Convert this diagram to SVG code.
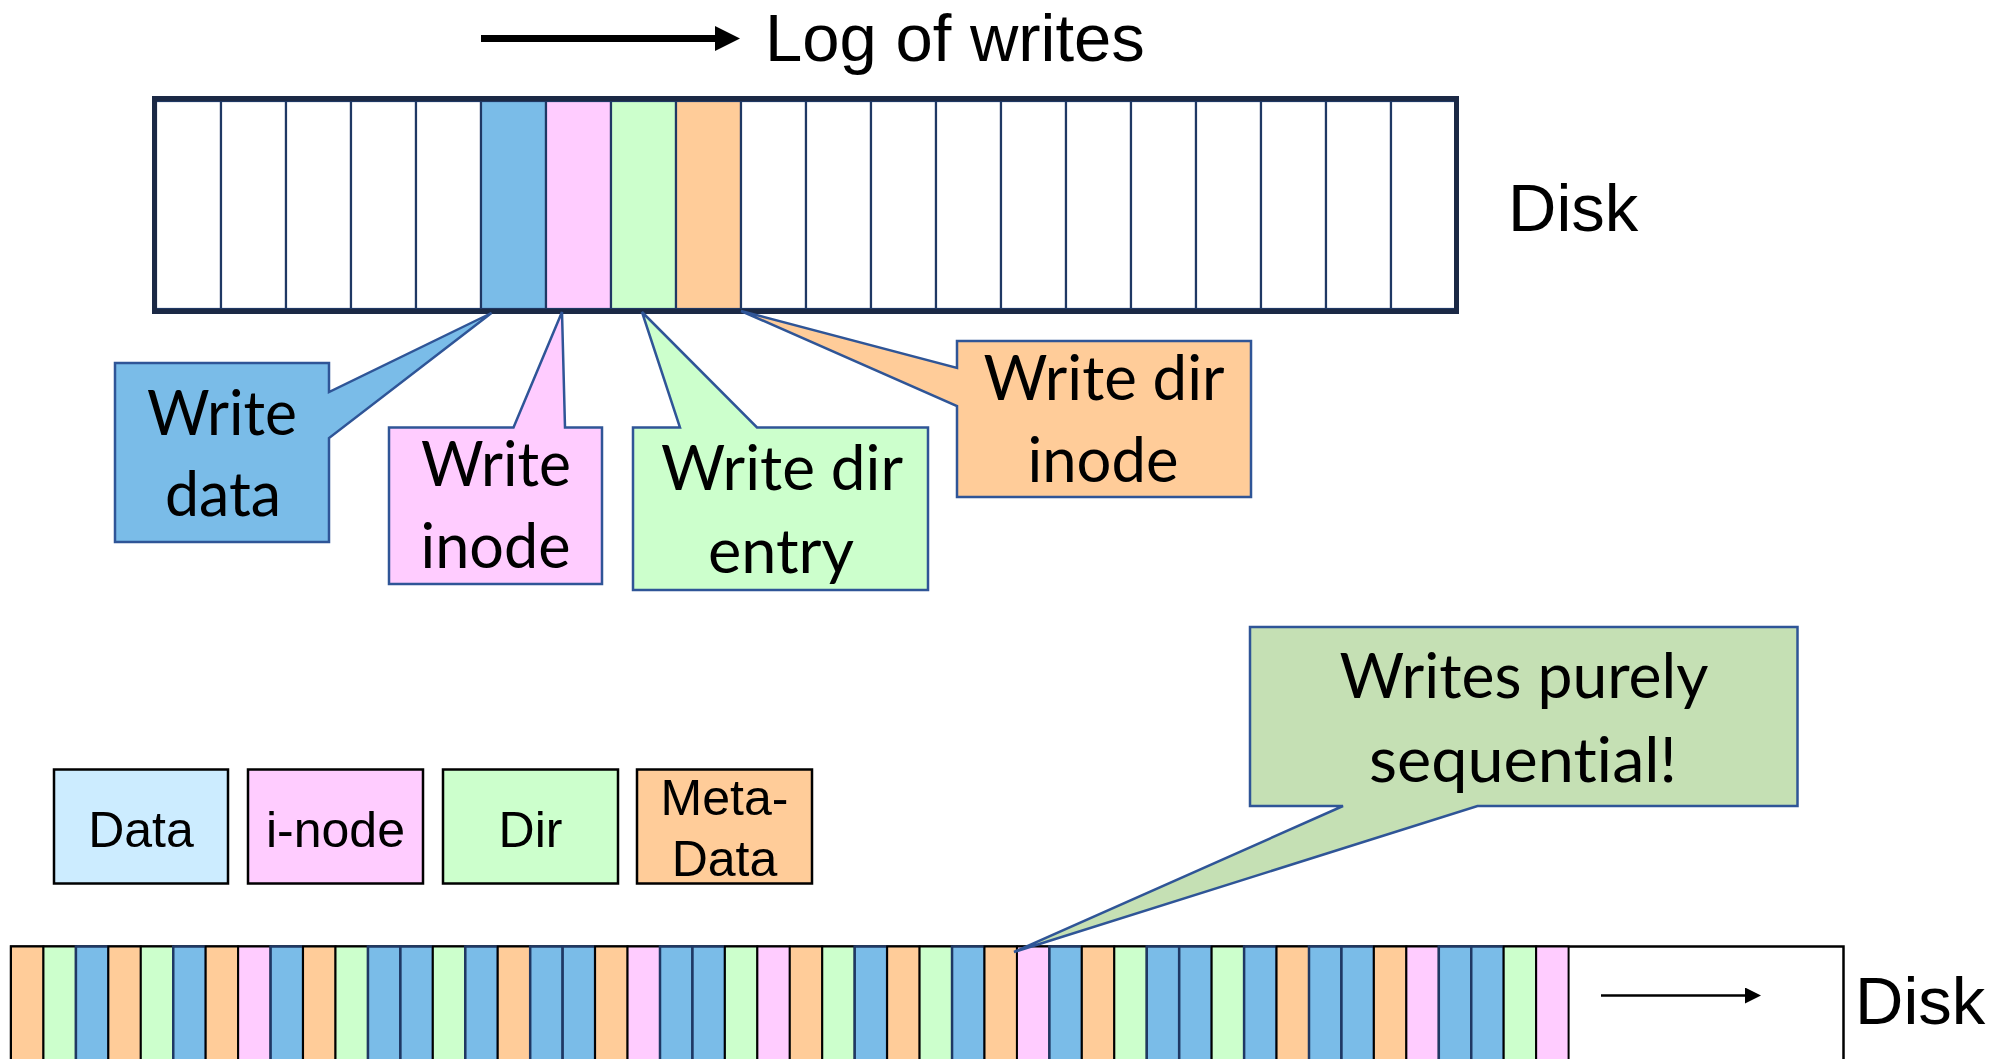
<svg xmlns="http://www.w3.org/2000/svg" width="2013" height="1059" viewBox="0 0 2013 1059">
  <defs>
    <style>
      .sans { font-family: "Liberation Sans", Arial, sans-serif; fill: #000; }
      .call { font-family: Lato, "Open Sans", sans-serif; fill: #000; font-size: 61px; text-anchor: middle; font-variant-ligatures: none; font-feature-settings: "liga" 0, "clig" 0; }
      .cell { stroke: #1F3864; stroke-width: 2.2; }
      .w { fill: #FFFFFF; }
      .b { fill: #7ABCE8; }
      .p { fill: #FFCCFF; }
      .g { fill: #CCFFCC; }
      .o { fill: #FFCC99; }
      .bc { stroke: #1F3864; stroke-width: 2.5; }
      .kc { stroke: #000; stroke-width: 2; }
      .callout { stroke: #2F5597; stroke-width: 2.5; stroke-linejoin: miter; }
      .legend { stroke: #000; stroke-width: 2.5; }
    </style>
    <marker id="headBig" viewBox="0 0 10 10" refX="0" refY="5" markerWidth="26" markerHeight="25" markerUnits="userSpaceOnUse" orient="auto">
      <path d="M0,0 L10,5 L0,10 Z" fill="#000"/>
    </marker>
    <marker id="headSmall" viewBox="0 0 10 10" refX="0" refY="5" markerWidth="17" markerHeight="16" markerUnits="userSpaceOnUse" orient="auto">
      <path d="M0,0 L10,5 L0,10 Z" fill="#000"/>
    </marker>
  </defs>

  <rect width="2013" height="1059" fill="#FFFFFF"/>

  <!-- title above the upper disk -->
  <text id="title" class="sans" x="765" y="61" font-size="67">Log of writes</text>

  <!-- upper disk: 20 blocks, four freshly written -->
  <g id="disk-top">
    <rect class="cell w" x="156" y="101" width="65" height="208"/>
    <rect class="cell w" x="221" y="101" width="65" height="208"/>
    <rect class="cell w" x="286" y="101" width="65" height="208"/>
    <rect class="cell w" x="351" y="101" width="65" height="208"/>
    <rect class="cell w" x="416" y="101" width="65" height="208"/>
    <rect class="cell b" x="481" y="101" width="65" height="208"/>
    <rect class="cell p" x="546" y="101" width="65" height="208"/>
    <rect class="cell g" x="611" y="101" width="65" height="208"/>
    <rect class="cell o" x="676" y="101" width="65" height="208"/>
    <rect class="cell w" x="741" y="101" width="65" height="208"/>
    <rect class="cell w" x="806" y="101" width="65" height="208"/>
    <rect class="cell w" x="871" y="101" width="65" height="208"/>
    <rect class="cell w" x="936" y="101" width="65" height="208"/>
    <rect class="cell w" x="1001" y="101" width="65" height="208"/>
    <rect class="cell w" x="1066" y="101" width="65" height="208"/>
    <rect class="cell w" x="1131" y="101" width="65" height="208"/>
    <rect class="cell w" x="1196" y="101" width="65" height="208"/>
    <rect class="cell w" x="1261" y="101" width="65" height="208"/>
    <rect class="cell w" x="1326" y="101" width="65" height="208"/>
    <rect class="cell w" x="1391" y="101" width="65" height="208"/>
    <rect x="154.5" y="98.5" width="1302" height="213" fill="none" stroke="#1B2945" stroke-width="5"/>
    <text class="sans" x="1508" y="231" font-size="67">Disk</text>
  </g>

  <!-- callouts for the four writes -->
  <g id="callout-data">
    <path class="callout b" d="M115,363 H329 V392 L491.5,313 L329,438 V542 H115 Z"/>
    <text class="call" x="222" y="435" textLength="150" lengthAdjust="spacingAndGlyphs">Write</text>
    <text class="call" x="223" y="516" textLength="116" lengthAdjust="spacingAndGlyphs">data</text>
  </g>
  <g id="callout-inode">
    <path class="callout p" d="M389,427.5 H513.5 L562,312 L565,427.5 H602 V584 H389 Z"/>
    <text class="call" x="496" y="486" textLength="150" lengthAdjust="spacingAndGlyphs">Write</text>
    <text class="call" x="495.5" y="568" textLength="150" lengthAdjust="spacingAndGlyphs">inode</text>
  </g>
  <g id="callout-dir-entry">
    <path class="callout g" d="M633,427.5 H680 L642,312 L757,427.5 H928 V590 H633 Z"/>
    <text class="call" x="782" y="490" textLength="242" lengthAdjust="spacingAndGlyphs">Write dir</text>
    <text class="call" x="781" y="573" textLength="146" lengthAdjust="spacingAndGlyphs">entry</text>
  </g>
  <g id="callout-dir-inode">
    <path class="callout o" d="M957,341 H1251 V497 H957 V406 L741,311 L957,368 Z"/>
    <text class="call" x="1104" y="400" textLength="241" lengthAdjust="spacingAndGlyphs">Write dir</text>
    <text class="call" x="1103" y="482" textLength="151" lengthAdjust="spacingAndGlyphs">inode</text>
  </g>

  <!-- legend -->
  <g id="legend-data">
    <rect class="legend" x="54" y="769.5" width="174" height="114" fill="#CCECFF"/>
    <text class="sans" x="141" y="847" font-size="50" text-anchor="middle">Data</text>
  </g>
  <g id="legend-inode">
    <rect class="legend" x="248" y="769.5" width="175" height="114" fill="#FFCCFF"/>
    <text class="sans" x="335.5" y="847" font-size="50" text-anchor="middle">i-node</text>
  </g>
  <g id="legend-dir">
    <rect class="legend" x="443" y="769.5" width="175" height="114" fill="#CCFFCC"/>
    <text class="sans" x="530.5" y="847" font-size="50" text-anchor="middle">Dir</text>
  </g>
  <g id="legend-meta">
    <rect class="legend" x="637" y="769.5" width="175" height="114" fill="#FFCC99"/>
    <text class="sans" x="724.5" y="815" font-size="50" text-anchor="middle">Meta-</text>
    <text class="sans" x="724.5" y="876" font-size="50" text-anchor="middle">Data</text>
  </g>

  <!-- lower disk: log written purely sequentially -->
  <g id="disk-bottom">
    <rect x="11" y="946.5" width="1832.5" height="130" fill="#FFFFFF" stroke="#000" stroke-width="2.5"/>
    <rect class="o kc" x="11.00" y="946.5" width="32.45" height="130"/>
    <rect class="g kc" x="43.45" y="946.5" width="32.45" height="130"/>
    <rect class="b bc" x="75.90" y="946.5" width="32.45" height="130"/>
    <rect class="o kc" x="108.35" y="946.5" width="32.45" height="130"/>
    <rect class="g kc" x="140.80" y="946.5" width="32.45" height="130"/>
    <rect class="b bc" x="173.25" y="946.5" width="32.45" height="130"/>
    <rect class="o kc" x="205.70" y="946.5" width="32.45" height="130"/>
    <rect class="p kc" x="238.15" y="946.5" width="32.45" height="130"/>
    <rect class="b bc" x="270.60" y="946.5" width="32.45" height="130"/>
    <rect class="o kc" x="303.05" y="946.5" width="32.45" height="130"/>
    <rect class="g kc" x="335.50" y="946.5" width="32.45" height="130"/>
    <rect class="b bc" x="367.95" y="946.5" width="32.45" height="130"/>
    <rect class="b bc" x="400.40" y="946.5" width="32.45" height="130"/>
    <rect class="g kc" x="432.85" y="946.5" width="32.45" height="130"/>
    <rect class="b bc" x="465.30" y="946.5" width="32.45" height="130"/>
    <rect class="o kc" x="497.75" y="946.5" width="32.45" height="130"/>
    <rect class="b bc" x="530.20" y="946.5" width="32.45" height="130"/>
    <rect class="b bc" x="562.65" y="946.5" width="32.45" height="130"/>
    <rect class="o kc" x="595.10" y="946.5" width="32.45" height="130"/>
    <rect class="p kc" x="627.55" y="946.5" width="32.45" height="130"/>
    <rect class="b bc" x="660.00" y="946.5" width="32.45" height="130"/>
    <rect class="b bc" x="692.45" y="946.5" width="32.45" height="130"/>
    <rect class="g kc" x="724.90" y="946.5" width="32.45" height="130"/>
    <rect class="p kc" x="757.35" y="946.5" width="32.45" height="130"/>
    <rect class="o kc" x="789.80" y="946.5" width="32.45" height="130"/>
    <rect class="g kc" x="822.25" y="946.5" width="32.45" height="130"/>
    <rect class="b bc" x="854.70" y="946.5" width="32.45" height="130"/>
    <rect class="o kc" x="887.15" y="946.5" width="32.45" height="130"/>
    <rect class="g kc" x="919.60" y="946.5" width="32.45" height="130"/>
    <rect class="b bc" x="952.05" y="946.5" width="32.45" height="130"/>
    <rect class="o kc" x="984.50" y="946.5" width="32.45" height="130"/>
    <rect class="p kc" x="1016.95" y="946.5" width="32.45" height="130"/>
    <rect class="b bc" x="1049.40" y="946.5" width="32.45" height="130"/>
    <rect class="o kc" x="1081.85" y="946.5" width="32.45" height="130"/>
    <rect class="g kc" x="1114.30" y="946.5" width="32.45" height="130"/>
    <rect class="b bc" x="1146.75" y="946.5" width="32.45" height="130"/>
    <rect class="b bc" x="1179.20" y="946.5" width="32.45" height="130"/>
    <rect class="g kc" x="1211.65" y="946.5" width="32.45" height="130"/>
    <rect class="b bc" x="1244.10" y="946.5" width="32.45" height="130"/>
    <rect class="o kc" x="1276.55" y="946.5" width="32.45" height="130"/>
    <rect class="b bc" x="1309.00" y="946.5" width="32.45" height="130"/>
    <rect class="b bc" x="1341.45" y="946.5" width="32.45" height="130"/>
    <rect class="o kc" x="1373.90" y="946.5" width="32.45" height="130"/>
    <rect class="p kc" x="1406.35" y="946.5" width="32.45" height="130"/>
    <rect class="b bc" x="1438.80" y="946.5" width="32.45" height="130"/>
    <rect class="b bc" x="1471.25" y="946.5" width="32.45" height="130"/>
    <rect class="g kc" x="1503.70" y="946.5" width="32.45" height="130"/>
    <rect class="p kc" x="1536.15" y="946.5" width="32.45" height="130"/>
    <text class="sans" x="1855" y="1024" font-size="67">Disk</text>
  </g>

  <!-- callout on the sequential log -->
  <g id="callout-sequential">
    <path class="callout" fill="#C5E0B4" d="M1250,627 H1797.5 V806 H1477.5 L1014,952 L1343,806 H1250 Z"/>
    <text class="call" x="1524" y="698" textLength="369" lengthAdjust="spacingAndGlyphs">Writes purely</text>
    <text class="call" x="1523" y="782" textLength="308" lengthAdjust="spacingAndGlyphs">sequential!</text>
  </g>

  <!-- direction arrows -->
  <g id="connectors">
    <line x1="481" y1="38.5" x2="715" y2="38.5" stroke="#000" stroke-width="7" marker-end="url(#headBig)"/>
    <line x1="1601" y1="995.5" x2="1745" y2="995.5" stroke="#000" stroke-width="2.5" marker-end="url(#headSmall)"/>
  </g>
</svg>
